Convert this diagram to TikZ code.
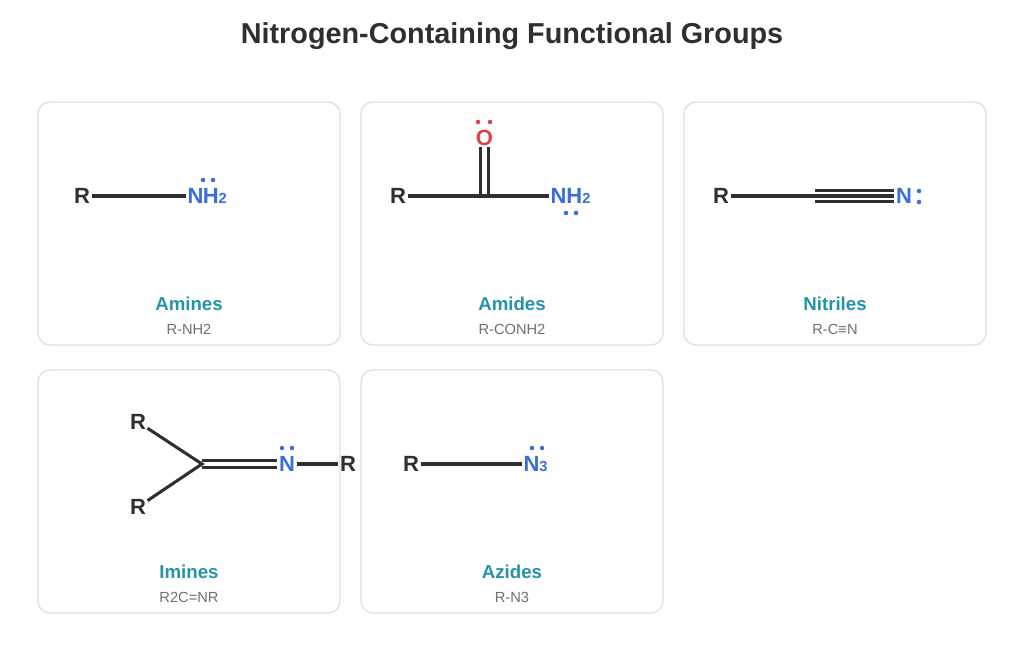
\documentclass[tikz,border=0pt]{standalone}
\usepackage{fontspec}
\setmainfont{Liberation Sans}
\usepackage{tikz}
\definecolor{ink}{HTML}{2E2E33}
\definecolor{nblue}{HTML}{3A6FDB}
\definecolor{ored}{HTML}{D94444}
\definecolor{teal}{HTML}{2494A8}
\definecolor{gry}{HTML}{707070}
\newcommand{\sub}[1]{\raisebox{-0.5pt}{\fontsize{11}{12}\selectfont #1}}
\tikzset{
  card/.style={draw=black!12,line width=1pt,rounded corners=9pt,fill=white},
  atom/.style={font=\fontsize{16.5}{18}\selectfont\bfseries,text=ink,inner sep=1pt},
  natom/.style={atom,text=nblue},
  oatom/.style={atom,text=ored},
  bond/.style={ink,line width=2.3pt},
  lp/.style={circle,fill=#1,inner sep=0pt,minimum size=3.4pt},
  gname/.style={font=\fontsize{14}{16}\selectfont\bfseries,text=teal},
  gform/.style={font=\fontsize{11}{13}\selectfont,text=gry}
}
\begin{document}
\begin{tikzpicture}[x=0.75pt,y=-0.75pt]
    \useasboundingbox[fill=white] (0,0) rectangle (1024,663);
    \node[font=\fontsize{21.6}{24}\selectfont\bfseries,text=ink] (title) at (512,36) {Nitrogen-Containing Functional Groups};
    \draw[card] (38,102) rectangle (340,345);
    \draw[card] (361,102) rectangle (663,345);
    \draw[card] (684,102) rectangle (986,345);
    \draw[card] (38,370) rectangle (340,613);
    \draw[card] (361,370) rectangle (663,613);
% amines
    \node[atom] (R1) at (82,196) {R};
    \node[natom,anchor=west] (N1) at (186,196) {N\kern-0.5pt H\sub{2}};
    \draw[bond] (R1) -- (N1);
    \node[lp=nblue] at (203,180) {};
    \node[lp=nblue] at (213,180) {};
    \node[gname] (n1) at (189,304) {Amines};
    \node[gform] (f1) at (189,329) {R-NH2};
% amides
    \node[atom] (R2) at (398,196) {R};
    \coordinate (C2) at (484.5,196);
    \node[oatom] (O2) at (484.5,138) {O};
    \node[natom,anchor=west] (N2) at (549,196) {NH\sub{2}};
    \draw[bond] (R2) -- (C2) -- (N2);
    \draw[bond] ([xshift=-2.7pt]C2) -- ([xshift=-2.7pt]O2.south);
    \draw[bond] ([xshift=2.7pt]C2) -- ([xshift=2.7pt]O2.south);
    \node[lp=ored] at (478,122) {};
    \node[lp=ored] at (490,122) {};
    \node[lp=nblue] at (566,213) {};
    \node[lp=nblue] at (576,213) {};
    \node[gname] (n2) at (512,304) {Amides};
    \node[gform] (f2) at (512,329) {R-CONH2};
% nitriles
    \node[atom] (R3) at (721,196) {R};
    \coordinate (C3) at (815,196);
    \node[natom] (N3) at (904,196) {N};
    \draw[bond] (R3) -- (C3) -- (N3);
    \draw[bond] ([yshift=4pt]C3) -- ([yshift=4pt]N3.west);
    \draw[bond] ([yshift=-4pt]C3) -- ([yshift=-4pt]N3.west);
    \node[lp=nblue] at (919,191) {};
    \node[lp=nblue] at (919,202) {};
    \node[gname] (n3) at (835,304) {Nitriles};
    \node[gform] (f3) at (835,329) {R-C≡N};
% imines
    \node[atom] (R4a) at (138,422) {R};
    \node[atom] (R4b) at (138,507) {R};
    \coordinate (C4) at (202,464);
    \node[natom] (N4) at (287,464) {N};
    \node[atom] (R4c) at (348,464) {R};
    \draw[bond] (R4a) -- (C4) -- (R4b);
    \draw[bond] ([yshift=2.7pt]C4) -- ([yshift=2.7pt]N4.west);
    \draw[bond] ([yshift=-2.7pt]C4) -- ([yshift=-2.7pt]N4.west);
    \draw[bond] (N4) -- (R4c);
    \node[lp=nblue] at (282,448) {};
    \node[lp=nblue] at (292,448) {};
    \node[gname] (n4) at (189,572) {Imines};
    \node[gform] (f4) at (189,597) {R2C=NR};
% azides
    \node[atom] (R5) at (411,464) {R};
    \node[natom,anchor=west] (N5) at (522,464) {N\sub{3}};
    \draw[bond] (R5) -- (N5);
    \node[lp=nblue] at (532,448) {};
    \node[lp=nblue] at (542,448) {};
    \node[gname] (n5) at (512,572) {Azides};
    \node[gform] (f5) at (512,597) {R-N3};
\end{tikzpicture}
\end{document}
